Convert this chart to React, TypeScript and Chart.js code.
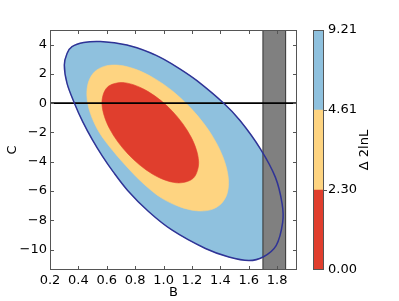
import React, { useEffect, useRef } from 'react';
import { Chart, registerables } from 'chart.js';

Chart.register(...registerables);

// ---- axes ----
const xTicks = [0.2, 0.4, 0.6, 0.8, 1.0, 1.2, 1.4, 1.6, 1.8];
const yTicks = [-10, -8, -6, -4, -2, 0, 2, 4];
const xMin = 0.2;
const xMax = 1.94;
const yMin = -11.4;
const yMax = 5.0;
const xLabel = 'B';
const yLabel = 'C';

// ---- contour at Δ2lnL = 9.21 (outer) ----
const outerB = [0.555, 0.742, 0.906, 1.000, 1.117, 1.235, 1.422, 1.540, 1.682, 1.788, 1.835, 1.839, 1.793, 1.701, 1.601, 1.460, 1.295, 1.061, 0.894, 0.747, 0.643, 0.569, 0.498, 0.431, 0.372, 0.320, 0.301, 0.320, 0.355, 0.437];
const outerC = [4.21, 3.97, 3.45, 3.01, 2.33, 1.54, 0.01, -1.20, -3.12, -5.07, -6.87, -8.15, -9.73, -10.51, -10.75, -10.51, -9.93, -8.68, -7.40, -5.96, -4.66, -3.62, -2.49, -1.28, 0.00, 1.35, 2.60, 3.40, 3.86, 4.14];

// ---- contour at Δ2lnL = 4.61 (middle) ----
const midB = [0.588, 0.687, 0.804, 0.932, 1.063, 1.185, 1.293, 1.377, 1.433, 1.457, 1.447, 1.403, 1.329, 1.230, 1.112, 0.984, 0.864, 0.755, 0.643, 0.544, 0.484, 0.460, 0.471, 0.514];
const midC = [2.53, 2.59, 2.31, 1.71, 0.83, -0.27, -1.51, -2.81, -4.08, -5.23, -6.20, -6.90, -7.29, -7.35, -7.07, -6.47, -5.55, -4.49, -3.25, -1.95, -0.68, 0.47, 1.44, 2.14];

// ---- contour at Δ2lnL = 2.30 (inner) ----
const innerB = [1.209, 1.247, 1.194, 1.064, 0.892, 0.723, 0.604, 0.566, 0.619, 0.749, 0.921, 1.089];
const innerC = [-5.13, -3.99, -2.32, -0.57, 0.79, 1.40, 1.09, -0.05, -1.73, -3.47, -4.84, -5.44];

// ---- excluded band and reference line ----
const bandB = [1.70, 1.86];
const refC = 0;

// ---- colour bar ----
const levelLabels = ['0.00', '2.30', '4.61', '9.21'];
const levelColors = ['#e03e2d', '#fed481', '#8fc1de'];
const colorbarSegments = [1, 1, 1];
const colorbarTitle = 'Δ 2lnL';

const FONT = { family: 'DejaVu Sans', size: 13 };
const FRAME = '#555';

const toPoints = (bs: number[], cs: number[]) => bs.map((b, i) => ({ x: b, y: cs[i] }));

const fmtY = (v: number) => (v < 0 ? '\u2212' + Math.abs(v) : String(v));

// make flagged line datasets closed, smooth loops
const closeLoops = {
  id: 'closeLoops',
  afterDatasetUpdate(chart: any, args: any) {
    const ds = chart.data.datasets[args.index];
    const line = args.meta && args.meta.dataset;
    if (ds && ds.closedLoop && line) {
      line._loop = true;
      line._fullLoop = true;
      line._pointsUpdated = false;
      delete line._segments;
      delete line._path;
    }
  },
};

const mainFrame = {
  id: 'mainFrame',
  afterDatasetsDraw(chart: any) {
    const { ctx, chartArea: a, scales } = chart;
    ctx.save();
    ctx.strokeStyle = FRAME;
    ctx.lineWidth = 1;
    ctx.strokeRect(a.left + 0.5, a.top + 0.5, a.right - a.left - 1, a.bottom - a.top - 1);
    const L = 4;
    ctx.beginPath();
    for (const t of scales.x.ticks) {
      const p = Math.round(scales.x.getPixelForValue(t.value)) + 0.5;
      ctx.moveTo(p, a.bottom);
      ctx.lineTo(p, a.bottom - L);
      ctx.moveTo(p, a.top);
      ctx.lineTo(p, a.top + L);
    }
    for (const t of scales.y.ticks) {
      const p = Math.round(scales.y.getPixelForValue(t.value)) + 0.5;
      ctx.moveTo(a.left, p);
      ctx.lineTo(a.left + L, p);
      ctx.moveTo(a.right, p);
      ctx.lineTo(a.right - L, p);
    }
    ctx.stroke();
    ctx.restore();
  },
};

const cbFrame = {
  id: 'cbFrame',
  afterDatasetsDraw(chart: any) {
    const { ctx, chartArea: a, scales } = chart;
    ctx.save();
    ctx.strokeStyle = FRAME;
    ctx.lineWidth = 1;
    ctx.strokeRect(a.left + 0.5, a.top + 0.5, a.right - a.left - 1, a.bottom - a.top - 1);
    ctx.beginPath();
    const ticks = scales.y.ticks;
    for (let i = 1; i < ticks.length - 1; i++) {
      const p = Math.round(scales.y.getPixelForValue(ticks[i].value)) + 0.5;
      ctx.moveTo(a.right, p);
      ctx.lineTo(a.right + 3, p);
    }
    ctx.stroke();
    ctx.translate(65, (a.top + a.bottom) / 2);
    ctx.rotate(-Math.PI / 2);
    ctx.fillStyle = '#000';
    ctx.font = `${FONT.size}px "${FONT.family}"`;
    ctx.textAlign = 'center';
    ctx.textBaseline = 'middle';
    ctx.fillText(colorbarTitle, 0, 0);
    ctx.restore();
  },
};

export default function App() {
  const mainRef = useRef<HTMLCanvasElement>(null);
  const cbRef = useRef<HTMLCanvasElement>(null);

  useEffect(() => {
    document.body.style.margin = '0';
    const fillSet = (bs: number[], cs: number[], color: string, order: number) => ({
      data: toPoints(bs, cs),
      closedLoop: true,
      showLine: true,
      fill: 'shape',
      backgroundColor: color,
      borderColor: color,
      borderWidth: 0.6,
      pointRadius: 0,
      tension: 0.33,
      order,
    });

    const main = new Chart(mainRef.current as HTMLCanvasElement, {
      type: 'scatter',
      data: {
        datasets: [
          fillSet(outerB, outerC, levelColors[2], 6),
          fillSet(midB, midC, levelColors[1], 5),
          fillSet(innerB, innerC, levelColors[0], 4),
          {
            data: [
              { x: bandB[0], y: yMin },
              { x: bandB[0], y: yMax },
              { x: bandB[1], y: yMax },
              { x: bandB[1], y: yMin },
            ],
            closedLoop: true,
            showLine: true,
            fill: 'shape',
            backgroundColor: '#808080',
            borderColor: '#333333',
            borderWidth: 1,
            pointRadius: 0,
            tension: 0,
            order: 3,
          },
          {
            data: [
              { x: xMin, y: refC },
              { x: xMax, y: refC },
            ],
            showLine: true,
            fill: false,
            borderColor: '#000000',
            borderWidth: 1.8,
            pointRadius: 0,
            order: 2,
          },
          {
            data: toPoints(outerB, outerC),
            closedLoop: true,
            showLine: true,
            fill: false,
            borderColor: '#2f3396',
            borderWidth: 1.5,
            pointRadius: 0,
            tension: 0.33,
            order: 1,
          },
        ] as any,
      },
      options: {
        responsive: false,
        animation: false,
        events: [],
        layout: { padding: { left: 0, top: 30, right: 102, bottom: 0 } },
        plugins: { legend: { display: false }, tooltip: { enabled: false } },
        scales: {
          x: {
            type: 'linear',
            min: xMin,
            max: xMax,
            afterBuildTicks: (s: any) => {
              s.ticks = xTicks.map((v) => ({ value: v }));
            },
            afterFit: (s: any) => {
              s.height = 31;
            },
            ticks: {
              callback: (v: any) => Number(v).toFixed(1),
              font: FONT,
              color: '#000',
              padding: 3,
              maxRotation: 0,
              autoSkip: false,
            },
            grid: { display: false, drawTicks: false },
            border: { display: false },
            title: { display: true, text: xLabel, font: FONT, color: '#000', padding: { top: 0, bottom: 1 } },
          },
          y: {
            type: 'linear',
            min: yMin,
            max: yMax,
            afterBuildTicks: (s: any) => {
              s.ticks = yTicks.map((v) => ({ value: v }));
            },
            afterFit: (s: any) => {
              s.width = 50;
            },
            ticks: {
              callback: (v: any) => fmtY(Number(v)),
              font: FONT,
              color: '#000',
              padding: 3,
              autoSkip: false,
            },
            grid: { display: false, drawTicks: false },
            border: { display: false },
            title: { display: true, text: yLabel, font: FONT, color: '#000', padding: { top: 5, bottom: 0 } },
          },
        },
      } as any,
      plugins: [closeLoops, mainFrame],
    });

    const cb = new Chart(cbRef.current as HTMLCanvasElement, {
      type: 'bar',
      data: {
        labels: [''],
        datasets: colorbarSegments.map((v, i) => ({
          data: [v],
          backgroundColor: levelColors[i],
          borderWidth: 0,
          barPercentage: 1,
          categoryPercentage: 1,
        })),
      },
      options: {
        responsive: false,
        animation: false,
        events: [],
        layout: { padding: { left: 13, top: 30, right: 0, bottom: 31 } },
        plugins: { legend: { display: false }, tooltip: { enabled: false } },
        scales: {
          x: { display: false, stacked: true },
          y: {
            position: 'right',
            stacked: true,
            min: 0,
            max: colorbarSegments.length,
            afterBuildTicks: (s: any) => {
              s.ticks = levelLabels.map((_, i) => ({ value: i }));
            },
            afterFit: (s: any) => {
              s.width = 75;
            },
            ticks: {
              callback: (_v: any, i: number) => levelLabels[i],
              font: FONT,
              color: '#000',
              padding: 4,
              autoSkip: false,
            },
            grid: { display: false, drawTicks: false },
            border: { display: false },
          },
        },
      } as any,
      plugins: [cbFrame],
    });

    return () => {
      main.destroy();
      cb.destroy();
    };
  }, []);

  return (
    <div style={{ position: 'fixed', left: 0, top: 0, width: 399, height: 301, background: '#fff' }}>
      <canvas ref={mainRef} width={399} height={301} style={{ position: 'absolute', left: 0, top: 0 }} />
      <canvas ref={cbRef} width={99} height={301} style={{ position: 'absolute', left: 300, top: 0 }} />
    </div>
  );
}
